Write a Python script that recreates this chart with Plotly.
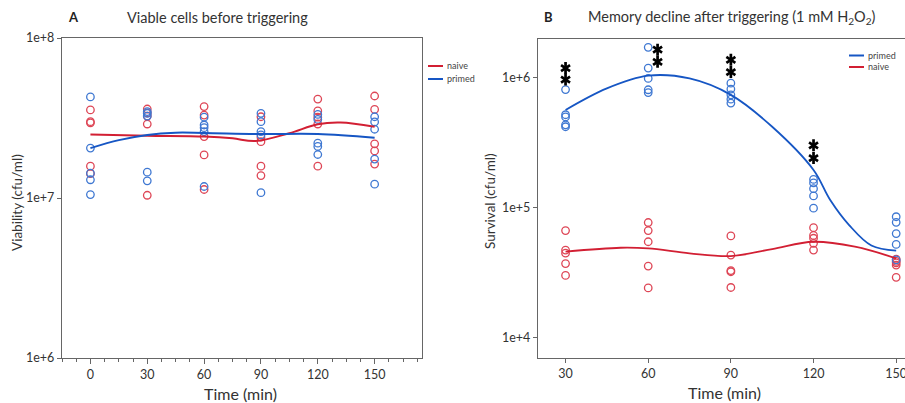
import plotly.graph_objects as go

# ---------------- data ----------------
times_A = [0, 30, 60, 90, 120, 150]
naive_A = [
    [3.55e7, 3.0e7, 2.95e7, 1.58e7, 1.42e7],
    [3.6e7, 3.4e7, 3.25e7, 2.9e7, 1.04e7],
    [3.73e7, 3.3e7, 2.42e7, 1.86e7, 1.13e7],
    [3.22e7, 2.4e7, 2.25e7, 1.58e7, 1.38e7],
    [4.15e7, 3.5e7, 3.2e7, 2.9e7, 1.58e7],
    [4.34e7, 3.58e7, 2.18e7, 1.97e7, 1.63e7],
]
primed_A = [
    [4.28e7, 2.05e7, 1.43e7, 1.30e7, 1.05e7],
    [3.47e7, 3.38e7, 3.25e7, 1.45e7, 1.28e7],
    [3.2e7, 2.86e7, 2.75e7, 2.6e7, 1.18e7],
    [3.38e7, 3.0e7, 2.6e7, 2.48e7, 1.08e7],
    [3.33e7, 3.1e7, 2.2e7, 2.1e7, 1.87e7],
    [3.22e7, 2.99e7, 2.69e7, 1.75e7, 1.22e7],
]
fitA_naive_x = [0, 30, 60, 75, 87, 105, 120, 132, 150]
fitA_naive_y = [2.49e7, 2.45e7, 2.42e7, 2.36e7, 2.27e7, 2.54e7, 2.89e7, 2.96e7, 2.79e7]
fitA_primed_x = [0, 15, 30, 45, 60, 90, 120, 150]
fitA_primed_y = [2.05e7, 2.3e7, 2.48e7, 2.56e7, 2.55e7, 2.51e7, 2.51e7, 2.38e7]

times_B = [30, 60, 90, 120, 150]
primed_B = [
    [8.13e5, 5.2e5, 5.0e5, 4.35e5, 4.2e5],
    [1.72e6, 1.19e6, 9.9e5, 8.1e5, 7.7e5],
    [9.1e5, 8.2e5, 7.4e5, 6.85e5, 6.4e5],
    [1.65e5, 1.55e5, 1.4e5, 1.23e5, 9.9e4],
    [8.5e4, 7.7e4, 6.3e4, 5.2e4, 3.95e4],
]
naive_B = [
    [6.65e4, 4.7e4, 4.45e4, 3.7e4, 3.0e4],
    [7.67e4, 6.65e4, 5.45e4, 3.54e4, 2.4e4],
    [6.05e4, 4.3e4, 3.27e4, 3.2e4, 2.42e4],
    [7.0e4, 6.1e4, 5.8e4, 5.3e4, 4.7e4],
    [4.0e4, 3.85e4, 3.75e4, 3.6e4, 2.9e4],
]
fitB_primed_x = [30, 45, 60, 75, 90, 105, 120, 126, 133, 141, 150]
fitB_primed_y = [5.66e5, 8.3e5, 1.04e6, 9.9e5, 7.4e5, 4.2e5, 1.95e5, 1.15e5, 7.3e4, 5.1e4, 4.65e4]
fitB_naive_x = [30, 50, 60, 75, 90, 105, 120, 135, 150]
fitB_naive_y = [4.57e4, 4.9e4, 4.84e4, 4.44e4, 4.23e4, 4.79e4, 5.45e4, 4.99e4, 4.06e4]

# significance marks (two asterisks per time point)
sig_x = [30, 30, 63.4, 63.4, 90, 90, 120, 120]
sig_y = [1.19e6, 9.7e5, 1.65e6, 1.33e6, 1.38e6, 1.11e6, 3.02e5, 2.41e5]

tick_A_vals = [1e6, 1e7, 1e8]
tick_A_text = ["1e+6", "1e+7", "1e+8"]
tick_B_vals = [1e4, 1e5, 1e6]
tick_B_text = ["1e+4", "1e+5", "1e+6"]

# ---------------- style ----------------
W, H = 905, 403
RED_PT = "#de4656"
BLUE_PT = "#3f78d2"
RED_LN = "#d21f33"
BLUE_LN = "#1656c4"
AX = "#666666"
TXT = "#333333"
FONT = "Lato"


def px(p):
    return p / W


def py(p):
    return 1 - p / H


def flat(times, groups):
    xs, ys = [], []
    for t, g in zip(times, groups):
        for v in g:
            xs.append(t)
            ys.append(v)
    return xs, ys


fig = go.Figure()

mk = dict(symbol="circle-open", size=7.5, line=dict(width=1.3))

# Panel A
x, y = flat(times_A, naive_A)
fig.add_trace(go.Scatter(x=x, y=y, mode="markers", marker=dict(color=RED_PT, **mk),
                         xaxis="x", yaxis="y", showlegend=False))
x, y = flat(times_A, primed_A)
fig.add_trace(go.Scatter(x=x, y=y, mode="markers", marker=dict(color=BLUE_PT, **mk),
                         xaxis="x", yaxis="y", showlegend=False))
fig.add_trace(go.Scatter(x=fitA_naive_x, y=fitA_naive_y, mode="lines",
                         line=dict(color=RED_LN, width=2, shape="spline"),
                         xaxis="x", yaxis="y", showlegend=False))
fig.add_trace(go.Scatter(x=fitA_primed_x, y=fitA_primed_y, mode="lines",
                         line=dict(color=BLUE_LN, width=2, shape="spline"),
                         xaxis="x", yaxis="y", showlegend=False))

# Panel B
x, y = flat(times_B, naive_B)
fig.add_trace(go.Scatter(x=x, y=y, mode="markers", marker=dict(color=RED_PT, **mk),
                         xaxis="x2", yaxis="y2", showlegend=False))
x, y = flat(times_B, primed_B)
fig.add_trace(go.Scatter(x=x, y=y, mode="markers", marker=dict(color=BLUE_PT, **mk),
                         xaxis="x2", yaxis="y2", showlegend=False))
fig.add_trace(go.Scatter(x=fitB_naive_x, y=fitB_naive_y, mode="lines",
                         line=dict(color=RED_LN, width=1.8, shape="spline"),
                         xaxis="x2", yaxis="y2", showlegend=False))
fig.add_trace(go.Scatter(x=fitB_primed_x, y=fitB_primed_y, mode="lines",
                         line=dict(color=BLUE_LN, width=1.8, shape="spline"),
                         xaxis="x2", yaxis="y2", showlegend=False))
for sym in ["y-up-open", "y-down-open"]:
    fig.add_trace(go.Scatter(x=sig_x, y=sig_y, mode="markers",
                             marker=dict(symbol=sym, size=7.5, color="black",
                                         line=dict(width=2.7, color="black")),
                             xaxis="x2", yaxis="y2", showlegend=False, cliponaxis=False))

axis_common = dict(showline=True, linecolor=AX, linewidth=1.3, showgrid=False, zeroline=False,
                   ticks="outside", tickcolor=AX, tickwidth=1, ticklabeloverflow="allow",
                   tickfont=dict(family=FONT, size=12.5, color=TXT), automargin=False)

fig.update_layout(
    width=W, height=H, margin=dict(l=0, r=0, t=0, b=0),
    template="none", paper_bgcolor="white", plot_bgcolor="white",
    showlegend=False,
    xaxis=dict(domain=[px(62), px(422)], range=[-15, 175], tickvals=times_A, ticklen=5,
               minor=dict(dtick=7.5, tick0=0, ticks="outside", ticklen=3, tickcolor=AX, showgrid=False),
               mirror=True, anchor="y", **axis_common),
    yaxis=dict(domain=[py(358), py(38)], type="log", range=[6, 8], tickvals=tick_A_vals,
               ticktext=tick_A_text, ticklen=4, mirror=True, anchor="x", **axis_common),
    xaxis2=dict(domain=[px(538), 1.0], range=[20, 153.2], tickvals=times_B, ticklen=4,
                mirror=True, anchor="y2", **axis_common),
    yaxis2=dict(domain=[py(358), py(39)], type="log", range=[3.84, 6.30], tickvals=tick_B_vals,
                ticktext=tick_B_text, ticklen=4, mirror=False, anchor="x2", **axis_common),
)

ann = []


def text(xp, yp, s, size, bold=False, angle=0, xanchor="center", color=TXT):
    ann.append(dict(x=px(xp), y=py(yp), xref="paper", yref="paper", text=f"<b>{s}</b>" if bold else s,
                    showarrow=False, xanchor=xanchor, yanchor="middle", textangle=angle,
                    font=dict(family=FONT, size=size, color=color)))


text(73, 17, "A", 13, bold=True, color="#222")
text(217, 18, "Viable cells before triggering", 14.5)
text(548, 17, "B", 13, bold=True, color="#222")
text(732, 18, "Memory decline after triggering (1 mM H<sub>2</sub>O<sub>2</sub>)", 14.5)
text(17, 203, "Viability (cfu/ml)", 13.5, angle=-90)
text(490, 201, "Survival (cfu/ml)", 13.5, angle=-90)
text(240, 393, "Time (min)", 16)
text(724, 392, "Time (min)", 16)
# legends
text(445, 65.5, "naive", 9, xanchor="left", color="#444")
text(445, 78.5, "primed", 9, xanchor="left", color="#444")
text(866, 55, "primed", 9, xanchor="left", color="#444")
text(866, 66.5, "naive", 9, xanchor="left", color="#444")
fig.update_layout(annotations=ann)

shapes = []
for (x0, x1, yy, c) in [(428, 443, 66, RED_LN), (428, 443, 79, BLUE_LN),
                        (849, 864, 55.5, BLUE_LN), (849, 864, 67, RED_LN)]:
    shapes.append(dict(type="line", xref="paper", yref="paper", x0=px(x0), x1=px(x1),
                       y0=py(yy), y1=py(yy), line=dict(color=c, width=2)))
fig.update_layout(shapes=shapes)

fig.write_html("out.html", config={"displayModeBar": False},
               post_script="document.body.style.margin='0';document.body.style.overflow='hidden';")
